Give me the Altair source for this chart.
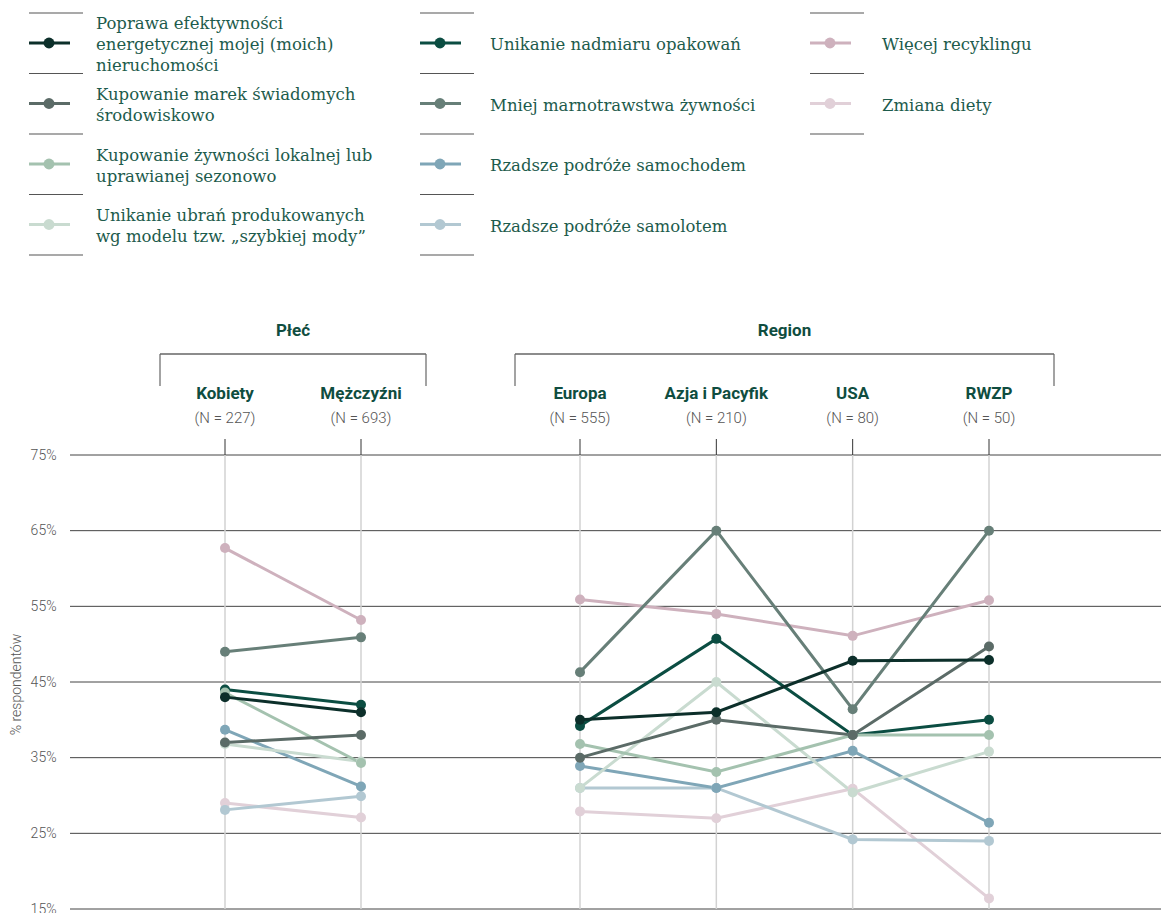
import altair as alt
import pandas as pd

# ---------------- data ----------------
SERIES = [
    "Poprawa efektywności energetycznej mojej (moich) nieruchomości",
    "Kupowanie marek świadomych środowiskowo",
    "Kupowanie żywności lokalnej lub uprawianej sezonowo",
    "Unikanie ubrań produkowanych wg modelu tzw. „szybkiej mody”",
    "Unikanie nadmiaru opakowań",
    "Mniej marnotrawstwa żywności",
    "Rzadsze podróże samochodem",
    "Rzadsze podróże samolotem",
    "Więcej recyklingu",
    "Zmiana diety",
]
LEGEND_LABELS = [
    "Poprawa efektywności\nenergetycznej mojej (moich)\nnieruchomości",
    "Kupowanie marek świadomych\nśrodowiskowo",
    "Kupowanie żywności lokalnej lub\nuprawianej sezonowo",
    "Unikanie ubrań produkowanych\nwg modelu tzw. „szybkiej mody”",
    "Unikanie nadmiaru opakowań",
    "Mniej marnotrawstwa żywności",
    "Rzadsze podróże samochodem",
    "Rzadsze podróże samolotem",
    "Więcej recyklingu",
    "Zmiana diety",
]
COLORS = ["#0c2f2a", "#5b6b67", "#a4c2af", "#c9dbd0", "#0b4d42",
          "#677f78", "#7fa6b7", "#b2c8d2", "#ceb1bd", "#e1d0d8"]

GENDER_CATS = ["Kobiety", "Mężczyźni"]
GENDER_N = ["(N = 227)", "(N = 693)"]
REGION_CATS = ["Europa", "Azja i Pacyfik", "USA", "RWZP"]
REGION_N = ["(N = 555)", "(N = 210)", "(N = 80)", "(N = 50)"]

# values per column, in SERIES order (%)
val_kobiety   = [43.0, 37.0, 43.6, 36.8, 44.0, 49.0, 38.7, 28.1, 62.7, 29.0]
val_mezczyzni = [41.0, 38.0, 34.3, 34.5, 42.0, 50.9, 31.2, 29.9, 53.2, 27.1]
val_europa    = [40.0, 35.0, 36.8, 31.0, 39.2, 46.3, 33.9, 31.0, 55.9, 27.9]
val_azja      = [41.0, 40.0, 33.1, 45.0, 50.7, 65.0, 31.0, 31.0, 54.0, 27.0]
val_usa       = [47.8, 38.0, 38.0, 30.4, 38.0, 41.4, 35.9, 24.2, 51.1, 30.9]
val_rwzp      = [47.9, 49.7, 38.0, 35.8, 40.0, 65.0, 26.4, 24.0, 55.8, 16.4]

Y_TICKS = [15, 25, 35, 45, 55, 65, 75]

# ---------------- layout constants ----------------
W, H = 1091, 454
PAD_L, PAD_T, PAD_B = 70, 455, 4
G_RANGE = [155, 291]
R_RANGE = [510, 919]
GREEN = "#0f4d40"
GREY = "#555555"


def long_df(cats, cols):
    rows = []
    for si in reversed(range(len(SERIES))):
        for ci, cat in enumerate(cats):
            rows.append({"series": SERIES[si], "cat": cat, "idx": ci, "value": cols[ci][si]})
    return pd.DataFrame(rows)


color_enc = alt.Color("series:N", scale=alt.Scale(domain=SERIES, range=COLORS), legend=None)
y_enc = alt.Y(
    "value:Q",
    scale=alt.Scale(domain=[15, 75], zero=False, nice=False),
    axis=alt.Axis(
        values=Y_TICKS, labelExpr="datum.value + '%'", title="% respondentów",
        grid=False, domain=False, ticks=False,
        labelPadding=14, labelFont="Roboto", labelFontSize=14, labelFontWeight=300,
        labelColor=GREY, titleFont="Roboto", titleFontSize=14, titleFontWeight=300,
        titleColor=GREY, titleX=-54, titleY=229, titleAngle=270,
        titleBaseline="middle", titleAlign="center",
    ),
)

# horizontal gridlines through the shared y scale
grid = alt.Chart(pd.DataFrame({"value": Y_TICKS})).mark_rule(
    color="#444444", strokeWidth=1
).encode(x=alt.value(0), x2=alt.value(W), y=y_enc)


def group_layer(cats, ns, rng, cols, title):
    df = long_df(cats, cols)
    cat_df = pd.DataFrame({"cat": cats, "n": ns})
    one = pd.DataFrame({"t": [title]})
    x_enc = alt.X("cat:N", scale=alt.Scale(type="point", domain=cats, range=rng, padding=0), axis=None)
    left, right = rng[0] - 65, rng[1] + 65
    mid = (rng[0] + rng[1]) / 2

    vlines = alt.Chart(cat_df).mark_rule(color="#d2d2d2", strokeWidth=1.5).encode(
        x=x_enc, y=alt.value(0), y2=alt.value(H))
    ticks = alt.Chart(cat_df).mark_rule(color="#333333", strokeWidth=1).encode(
        x=x_enc, y=alt.value(-16), y2=alt.value(0))
    names = alt.Chart(cat_df).mark_text(
        font="Roboto", fontSize=17, fontWeight="bold", color=GREEN, baseline="middle"
    ).encode(x=x_enc, y=alt.value(-61), text="cat:N")
    nlab = alt.Chart(cat_df).mark_text(
        font="Roboto", fontSize=15, fontWeight=300, color=GREY, baseline="middle"
    ).encode(x=x_enc, y=alt.value(-37), text="n:N")
    br_h = alt.Chart(one).mark_rule(color="#666666", strokeWidth=1.5).encode(
        x=alt.value(left), x2=alt.value(right), y=alt.value(-101))
    br_l = alt.Chart(one).mark_rule(color="#666666", strokeWidth=1.2).encode(
        x=alt.value(left), y=alt.value(-101), y2=alt.value(-69))
    br_r = alt.Chart(one).mark_rule(color="#666666", strokeWidth=1.2).encode(
        x=alt.value(right), y=alt.value(-101), y2=alt.value(-69))
    ttl = alt.Chart(one).mark_text(
        font="Roboto", fontSize=17, fontWeight="bold", color=GREEN, baseline="middle"
    ).encode(x=alt.value(mid), y=alt.value(-124), text="t:N")
    lines = alt.Chart(df).mark_line(strokeWidth=3).encode(
        x=x_enc, y=y_enc, color=color_enc, detail="series:N", order="idx:Q")
    points = alt.Chart(df).mark_circle(size=100, opacity=1).encode(
        x=x_enc, y=y_enc, color=color_enc)
    return alt.layer(vlines, ticks, names, nlab, br_h, br_l, br_r, ttl, lines, points)


gender = group_layer(GENDER_CATS, GENDER_N, G_RANGE,
                     [val_kobiety, val_mezczyzni], "Płeć")
region = group_layer(REGION_CATS, REGION_N, R_RANGE,
                     [val_europa, val_azja, val_usa, val_rwzp], "Region")

# ---------------- custom legend ----------------
COL_X = [29 - PAD_L, 420 - PAD_L, 810 - PAD_L]
TEXT_X = [96 - PAD_L, 490 - PAD_L, 882 - PAD_L]
ROW_Y0 = 43 - PAD_T
ROW_STEP = 60.5
SEP_Y0 = 13 - PAD_T
PER_COL = 4
LINE_H = 21

leg_rows = []
for i, s in enumerate(SERIES):
    c, r = divmod(i, PER_COL)
    yy = ROW_Y0 + ROW_STEP * r
    n_lines = LEGEND_LABELS[i].count("\n") + 1
    leg_rows.append({"series": s, "label": LEGEND_LABELS[i],
                     "x1": COL_X[c], "x2": COL_X[c] + 41, "cx": COL_X[c] + 20,
                     "tx": TEXT_X[c], "y": yy,
                     "ty": yy + 2 - (n_lines - 1) * LINE_H / 2})
leg_df = pd.DataFrame(leg_rows)

sep_rows = []
n_in_col = [min(PER_COL, len(SERIES) - PER_COL * c) for c in range(len(COL_X))]
for c, n in enumerate(n_in_col):
    for k in range(n + 1):
        sep_rows.append({"sx": COL_X[c], "sx2": COL_X[c] + 54, "sy": SEP_Y0 + ROW_STEP * k})
sep_df = pd.DataFrame(sep_rows)

leg_sep = alt.Chart(sep_df).mark_rule(color="#555555", strokeWidth=1.2).encode(
    x=alt.X("sx:Q", scale=None), x2="sx2:Q", y=alt.Y("sy:Q", scale=None))
leg_line = alt.Chart(leg_df).mark_rule(strokeWidth=3).encode(
    x=alt.X("x1:Q", scale=None), x2="x2:Q", y=alt.Y("y:Q", scale=None), color=color_enc)
leg_pt = alt.Chart(leg_df).mark_circle(size=120, opacity=1).encode(
    x=alt.X("cx:Q", scale=None), y=alt.Y("y:Q", scale=None), color=color_enc)
leg_txt = alt.Chart(leg_df).mark_text(
    font="DejaVu Serif", fontSize=16.5, color="#1d5b4c", align="left",
    baseline="middle", lineBreak="\n", lineHeight=LINE_H,
).encode(x=alt.X("tx:Q", scale=None), y=alt.Y("ty:Q", scale=None), text="label:N")

legend = alt.layer(leg_sep, leg_line, leg_pt, leg_txt)

chart = alt.layer(grid, gender, region, legend).resolve_scale(x="independent").properties(
    width=W, height=H,
    autosize=alt.AutoSizeParams(type="none"),
    padding={"left": PAD_L, "top": PAD_T, "right": 0, "bottom": PAD_B},
    background="white",
).configure_view(stroke=None)

chart.save("out.html", embed_options={"renderer": "svg", "actions": False})
